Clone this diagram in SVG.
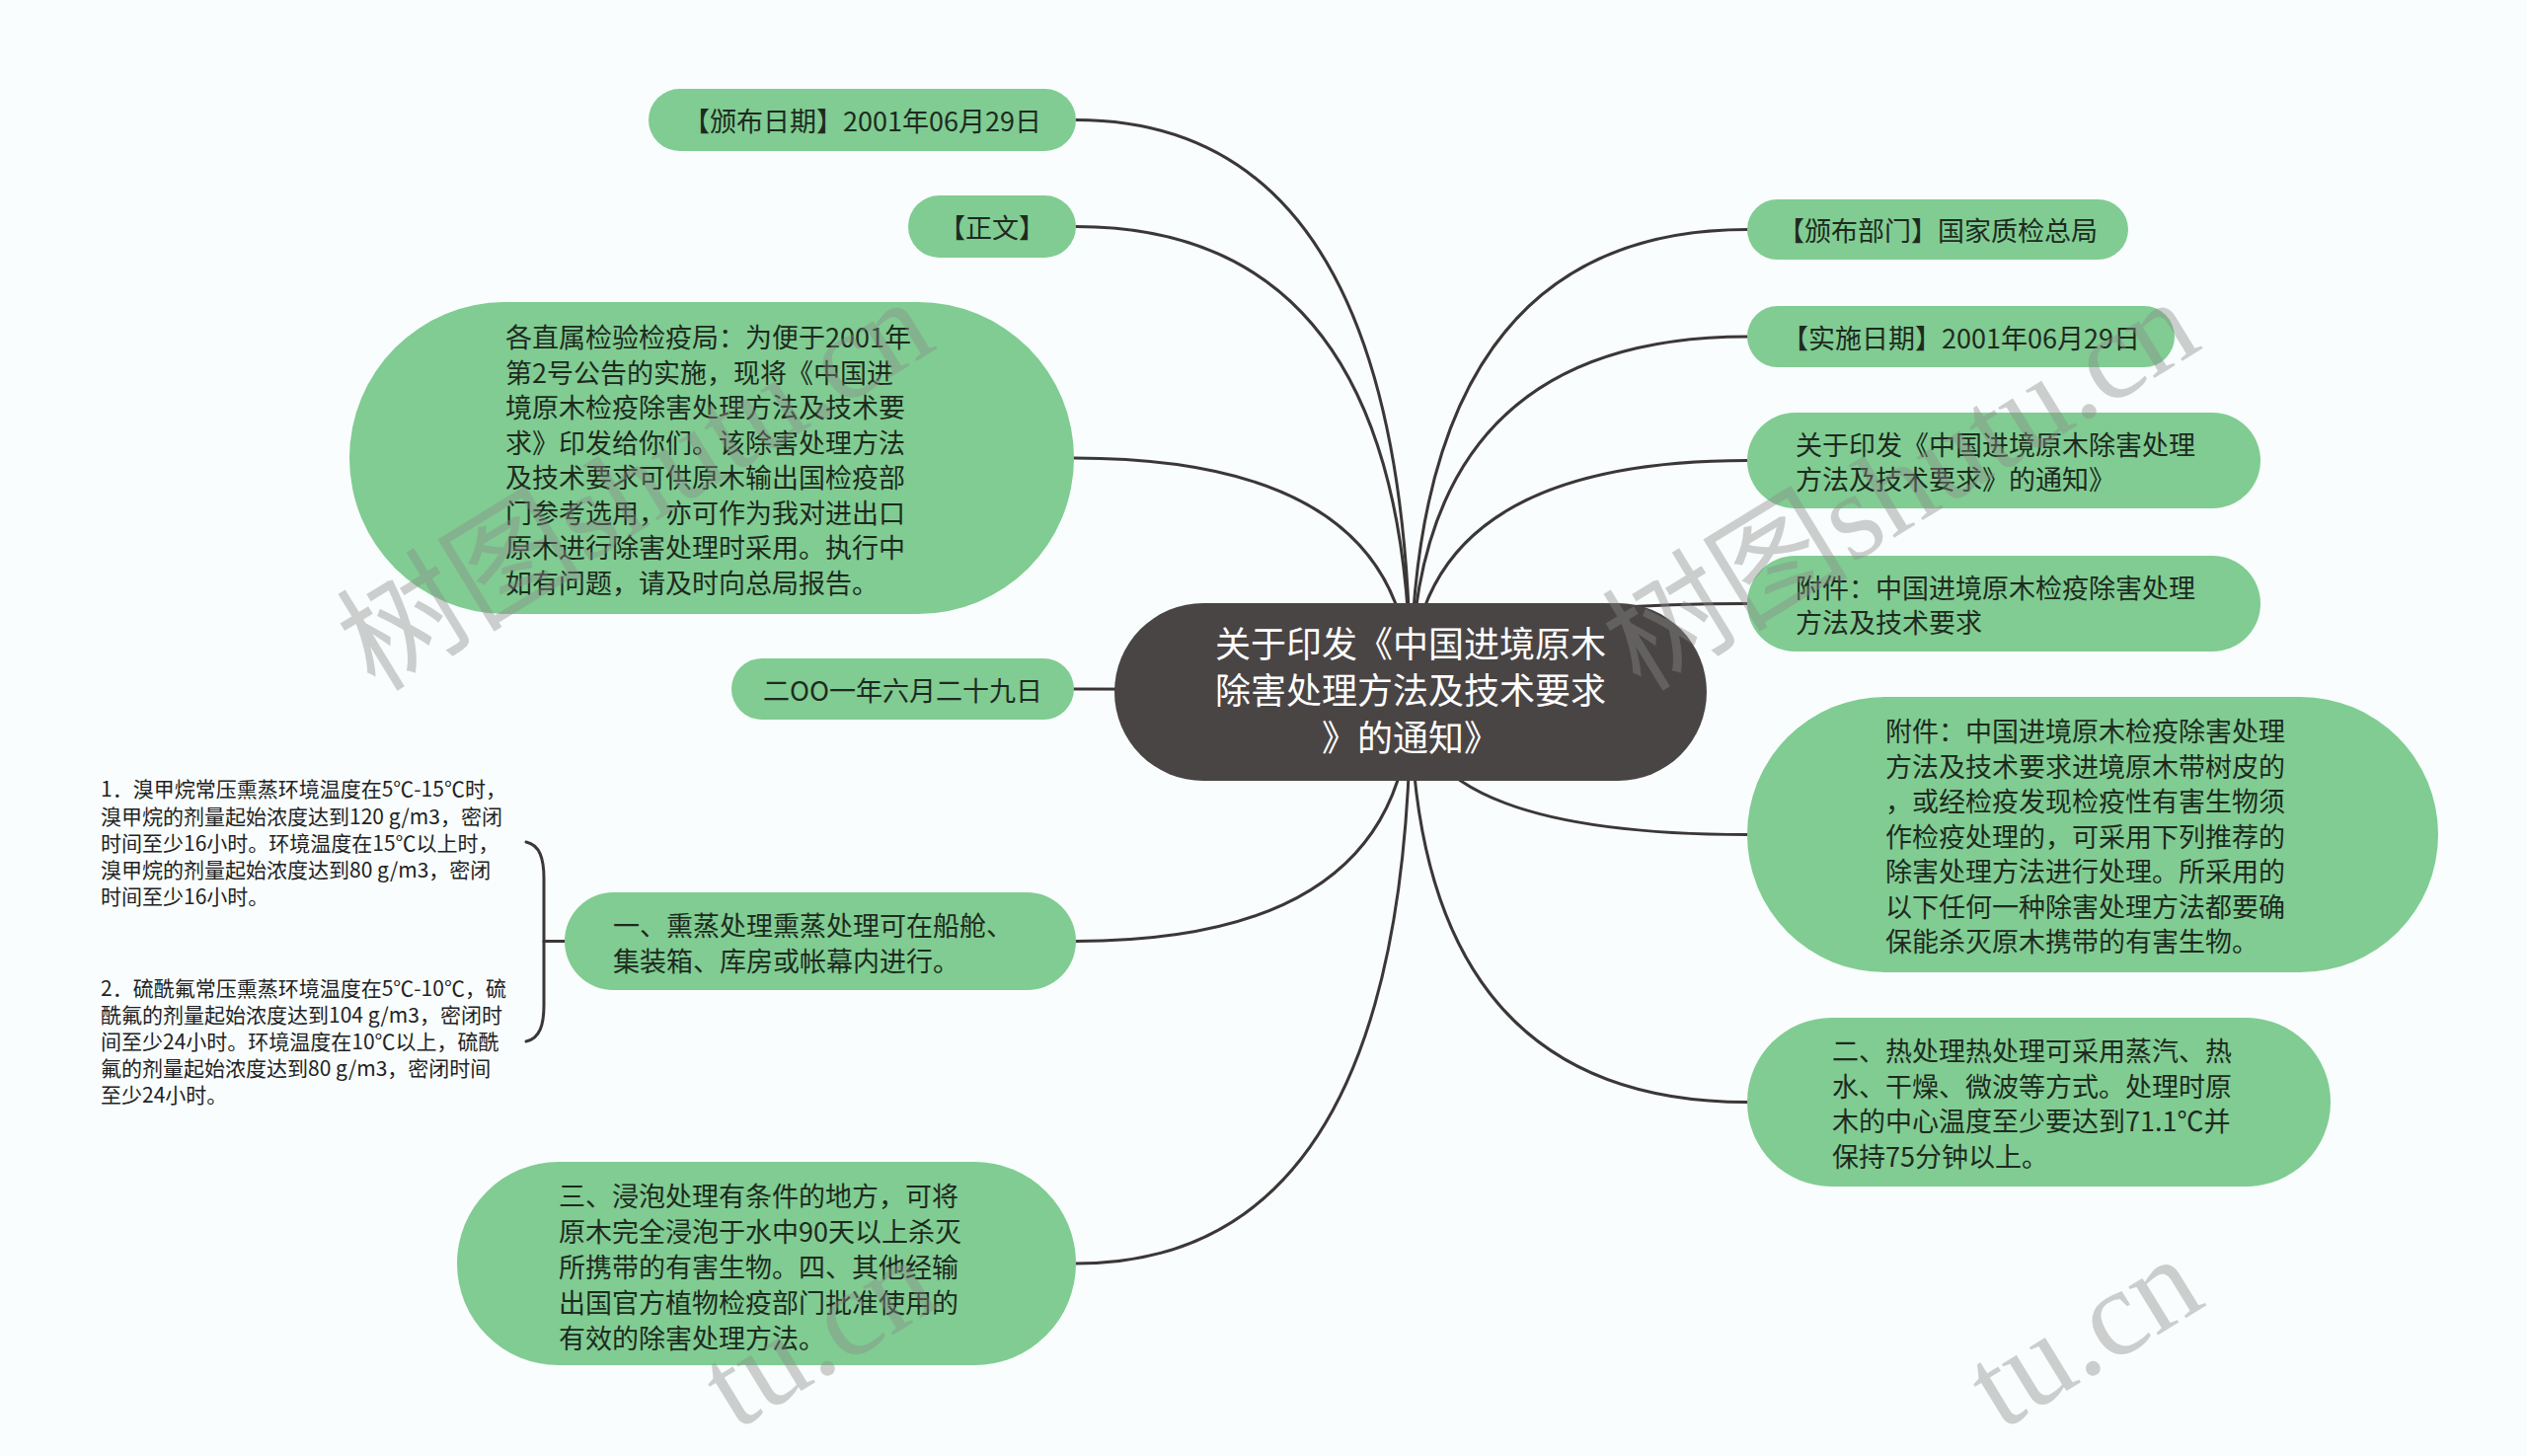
<svg xmlns="http://www.w3.org/2000/svg" width="2560" height="1475" viewBox="0 0 2560 1475">
<style>
.bg{fill:#f9fdfd}
.n{fill:#80cc92}
.c{fill:#4a4545}
.t{font-family:"Noto Sans CJK SC","Noto Sans",sans-serif;font-size:27px;fill:#1e2a20}
.tm{text-anchor:middle}
.ct{font-family:"Noto Sans CJK SC","Noto Sans",sans-serif;font-size:36px;fill:#ffffff;text-anchor:middle}
.s{font-family:"Noto Sans CJK SC","Noto Sans",sans-serif;font-size:21px;fill:#222222}
.l{fill:none;stroke:#3b3737;stroke-width:3;stroke-linecap:round}
.wm{font-family:"Liberation Serif","Noto Sans CJK SC",serif;font-size:125px;fill:#8a8a8a;opacity:0.4}
</style>
<rect class="bg" x="0" y="0" width="2560" height="1475"/>
<g id="connectors">
<path class="l" d="M1429 701 Q1429 121.5 1090 121.5"/>
<path class="l" d="M1429 701 Q1429 229.5 1090 229.5"/>
<path class="l" d="M1429 701 Q1429 464 1088 464"/>
<path class="l" d="M1429 701 Q1429 698 1088 698"/>
<path class="l" d="M1429 701 Q1429 953.5 1090 953.5"/>
<path class="l" d="M1429 701 Q1429 1280 1090 1280"/>
<path class="l" d="M1429 701 Q1429 232.5 1770 232.5"/>
<path class="l" d="M1429 701 Q1429 341 1770 341"/>
<path class="l" d="M1429 701 Q1429 466.5 1770 466.5"/>
<path class="l" d="M1429 701 Q1429 611.5 1770 611.5"/>
<path class="l" d="M1429 701 Q1429 845.5 1770 845.5"/>
<path class="l" d="M1429 701 Q1429 1116.5 1770 1116.5"/>
<path class="l" d="M533 853 C547 856 551 870 551 890 L551 1018 C551 1038 547 1052 533 1055"/>
<path class="l" d="M551 953.5 L572 953.5"/>
</g>
<g id="center">
<rect class="c" x="1129" y="611" width="600" height="180" rx="90"/>
<text class="ct" x="1429" y="666">关于印发《中国进境原木</text>
<text class="ct" x="1429" y="713">除害处理方法及技术要求</text>
<text class="ct" x="1429" y="761">》的通知》</text>
</g>
<g id="n-date">
<rect class="n" x="657" y="90" width="433" height="63" rx="31.5"/>
<text class="t tm" x="873.5" y="133">【颁布日期】2001年06月29日</text>
</g>
<g id="n-zhengwen">
<rect class="n" x="920" y="198" width="170" height="63" rx="31.5"/>
<text class="t tm" x="1005" y="241">【正文】</text>
</g>
<g id="n-letter">
<rect class="n" x="354" y="306" width="734" height="316" rx="158"/>
<text class="t" x="512" y="352">各直属检验检疫局：为便于2001年</text>
<text class="t" x="512" y="387.5">第2号公告的实施，现将《中国进</text>
<text class="t" x="512" y="423">境原木检疫除害处理方法及技术要</text>
<text class="t" x="512" y="458.5">求》印发给你们。该除害处理方法</text>
<text class="t" x="512" y="494">及技术要求可供原木输出国检疫部</text>
<text class="t" x="512" y="529.5">门参考选用，亦可作为我对进出口</text>
<text class="t" x="512" y="565">原木进行除害处理时采用。执行中</text>
<text class="t" x="512" y="600.5">如有问题，请及时向总局报告。</text>
</g>
<g id="n-date2">
<rect class="n" x="741" y="667" width="347" height="62" rx="31"/>
<text class="t tm" x="914.5" y="709.5">二OO一年六月二十九日</text>
</g>
<g id="n-fumigation">
<rect class="n" x="572" y="904" width="518" height="99" rx="49.5"/>
<text class="t" x="621" y="948">一、熏蒸处理熏蒸处理可在船舱、</text>
<text class="t" x="621" y="983.5">集装箱、库房或帐幕内进行。</text>
</g>
<g id="n-sub1">
<text class="s" x="102" y="807">1．溴甲烷常压熏蒸环境温度在5℃-15℃时，</text>
<text class="s" x="102" y="834.5">溴甲烷的剂量起始浓度达到120 g/m3，密闭</text>
<text class="s" x="102" y="862">时间至少16小时。环境温度在15℃以上时，</text>
<text class="s" x="102" y="889">溴甲烷的剂量起始浓度达到80 g/m3，密闭</text>
<text class="s" x="102" y="916">时间至少16小时。</text>
</g>
<g id="n-sub2">
<text class="s" x="102" y="1009">2．硫酰氟常压熏蒸环境温度在5℃-10℃，硫</text>
<text class="s" x="102" y="1036">酰氟的剂量起始浓度达到104 g/m3，密闭时</text>
<text class="s" x="102" y="1063">间至少24小时。环境温度在10℃以上，硫酰</text>
<text class="s" x="102" y="1090">氟的剂量起始浓度达到80 g/m3，密闭时间</text>
<text class="s" x="102" y="1117">至少24小时。</text>
</g>
<g id="n-soak">
<rect class="n" x="463" y="1177" width="627" height="206" rx="103"/>
<text class="t" x="566" y="1222">三、浸泡处理有条件的地方，可将</text>
<text class="t" x="566" y="1258">原木完全浸泡于水中90天以上杀灭</text>
<text class="t" x="566" y="1294">所携带的有害生物。四、其他经输</text>
<text class="t" x="566" y="1330">出国官方植物检疫部门批准使用的</text>
<text class="t" x="566" y="1366">有效的除害处理方法。</text>
</g>
<g id="n-dept">
<rect class="n" x="1770" y="202" width="386" height="61" rx="30.5"/>
<text class="t tm" x="1963" y="244">【颁布部门】国家质检总局</text>
</g>
<g id="n-impl">
<rect class="n" x="1770" y="310" width="433" height="62" rx="31"/>
<text class="t tm" x="1986.5" y="352.5">【实施日期】2001年06月29日</text>
</g>
<g id="n-title">
<rect class="n" x="1770" y="418" width="520" height="97" rx="48.5"/>
<text class="t" x="1819" y="460.5">关于印发《中国进境原木除害处理</text>
<text class="t" x="1819" y="496">方法及技术要求》的通知》</text>
</g>
<g id="n-attach">
<rect class="n" x="1770" y="563" width="520" height="97" rx="48.5"/>
<text class="t" x="1819" y="605.5">附件：中国进境原木检疫除害处理</text>
<text class="t" x="1819" y="641">方法及技术要求</text>
</g>
<g id="n-attach2">
<rect class="n" x="1770" y="706" width="700" height="279" rx="139.5"/>
<text class="t" x="1910" y="751">附件：中国进境原木检疫除害处理</text>
<text class="t" x="1910" y="786.5">方法及技术要求进境原木带树皮的</text>
<text class="t" x="1910" y="822">，或经检疫发现检疫性有害生物须</text>
<text class="t" x="1910" y="857.5">作检疫处理的，可采用下列推荐的</text>
<text class="t" x="1910" y="893">除害处理方法进行处理。所采用的</text>
<text class="t" x="1910" y="928.5">以下任何一种除害处理方法都要确</text>
<text class="t" x="1910" y="964">保能杀灭原木携带的有害生物。</text>
</g>
<g id="n-heat">
<rect class="n" x="1770" y="1031" width="591" height="171" rx="85.5"/>
<text class="t" x="1856" y="1075">二、热处理热处理可采用蒸汽、热</text>
<text class="t" x="1856" y="1110.5">水、干燥、微波等方式。处理时原</text>
<text class="t" x="1856" y="1146">木的中心温度至少要达到71.1℃并</text>
<text class="t" x="1856" y="1181.5">保持75分钟以上。</text>
</g>
<g id="watermarks">
<text class="wm" transform="translate(380 702) rotate(-31.5)">树图shutu.cn</text>
<text class="wm" transform="translate(1662 702) rotate(-31.5)">树图shutu.cn</text>
<text class="wm" transform="translate(745 1450) rotate(-31.5)">tu.cn</text>
<text class="wm" transform="translate(2027 1450) rotate(-31.5)">tu.cn</text>
</g>
</svg>
